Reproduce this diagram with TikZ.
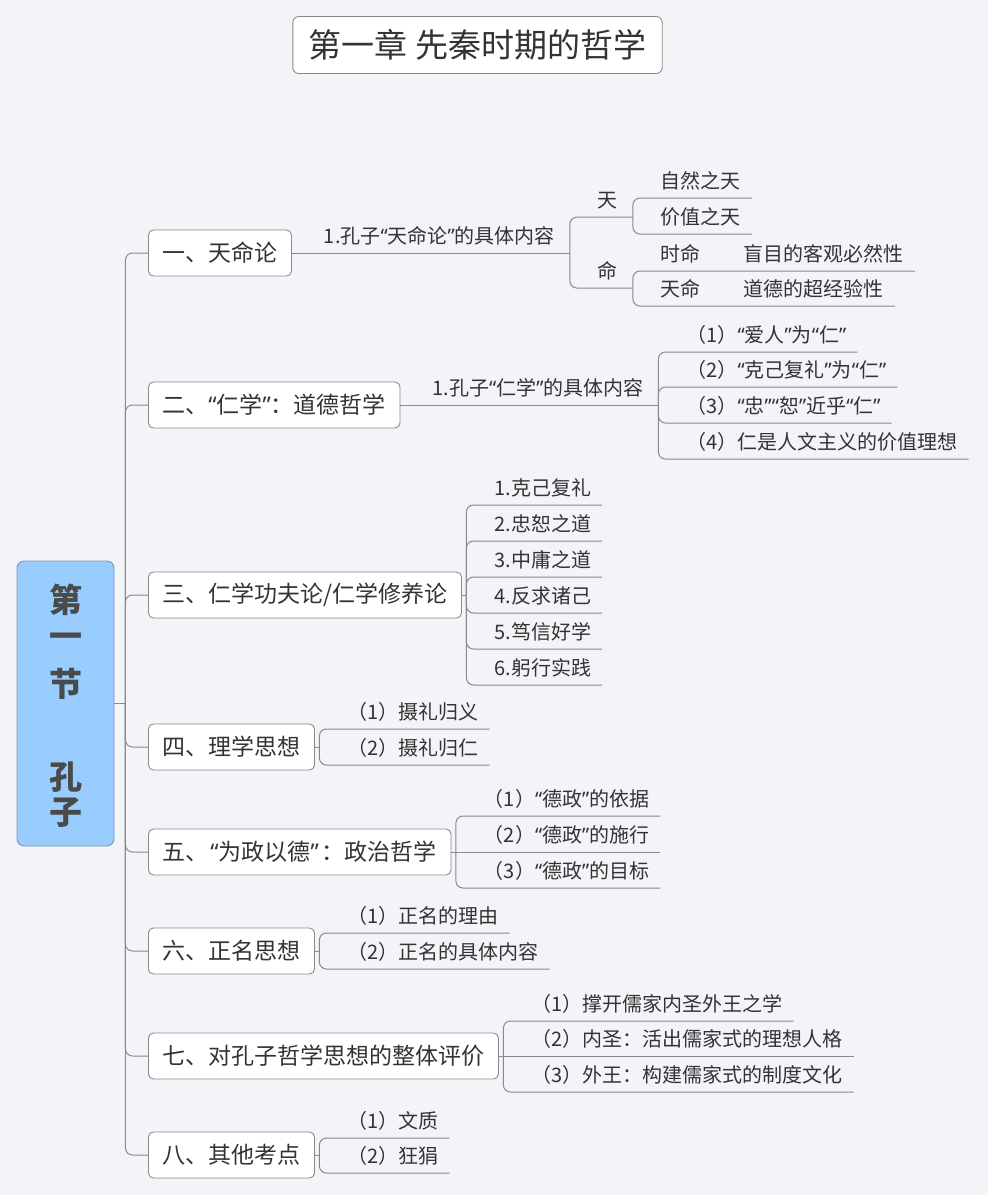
\documentclass[tikz,border=0pt]{standalone}
\usepackage{fontspec}
\setmainfont{Noto Sans CJK SC}
\newfontfamily\latinq{Noto Sans}
\newcommand{\zqo}{{\latinq “}}
\newcommand{\zqc}{{\latinq ”}}
\usetikzlibrary{calc}
\definecolor{bg}{HTML}{F3F4F8}
\definecolor{txt}{HTML}{333333}
\definecolor{ln}{HTML}{8A8A8A}
\definecolor{rootfill}{HTML}{99CCFF}
\definecolor{rootline}{HTML}{7F98B5}
\definecolor{roottxt}{HTML}{4A4A4A}
\begin{document}
\begin{tikzpicture}[x=1pt,y=-1pt,
  conn/.style={draw=ln, line width=1pt, rounded corners=7pt},
  box/.style={draw=ln, fill=white, rounded corners=5pt, line width=0.9pt,
    minimum height=46pt, inner xsep=14pt, inner ysep=0pt, anchor=west,
    font=\fontsize{23}{27}\selectfont, text=txt},
  lbl/.style={inner sep=0pt, outer sep=0pt, anchor=south west,
    text depth=9.5pt, text height=17pt, font=\fontsize{20}{24}\selectfont,
    text=txt, execute at begin node=\hspace*{#1}},
  lbl/.default=28pt,
  mid/.style={lbl=#1, execute at end node=\hspace*{15pt}},
  mid/.default=28pt,
  leaf/.style={lbl, execute at end node=\hspace*{11pt}},
  rootch/.style={font=\fontsize{33}{36}\selectfont\bfseries, text=roottxt, inner sep=0pt},
]
\useasboundingbox[fill=bg] (0,0) rectangle (988,1195);

% title
\node[draw=ln, fill=white, rounded corners=6pt, line width=0.9pt,
  minimum height=57pt, inner xsep=16pt, font=\fontsize{33}{37}\selectfont, text=txt]
  (title) at (477.5,45) {第一章 先秦时期的哲学};

% root
\node[draw=rootline, fill=rootfill, rounded corners=7pt, line width=0.9pt,
  minimum width=97pt, minimum height=285pt] (root) at (65.5,703.5) {};
\node[rootch] (r1) at (65.5,600) {第};
\node[rootch] (r2) at (65.5,641) {一};
\node[rootch] (r3) at (65.5,684) {节};
\node[rootch] (r4) at (65.5,777) {孔};
\node[rootch] (r5) at (65.5,813) {子};

% level 1 boxes
\node[box] (b1) at (148,253) {一、天命论};
\node[box] (b2) at (148,405) {二、\zqo 仁学\zqc ：道德哲学};
\node[box] (b3) at (148,595) {三、仁学功夫论/仁学修养论};
\node[box] (b4) at (148,747) {四、理学思想};
\node[box] (b5) at (148,852) {五、\kern2pt\zqo 为政以德\zqc\kern3pt：政治哲学};
\node[box] (b6) at (148,951) {六、正名思想};
\node[box] (b7) at (148,1056) {七、对孔子哲学思想的整体评价};
\node[box] (b8) at (148,1155) {八、其他考点};

% trunk
\coordinate (trunk) at ([xshift=11pt]root.east);
\draw[conn] (root.east) -- (trunk);
\foreach \b in {b1,b2,b3,b4,b5,b6,b7,b8}
  \draw[conn] (trunk) |- (\b.west);

% branch 1
\node[mid=32pt] (m1) at (b1.east) {1.孔子\zqo 天命论\zqc 的具体内容};
\draw[conn] (b1.east) -- (m1.south east);
\node[mid] (tian) at (m1.south east |- 0,217) {天};
\node[mid] (ming) at (m1.south east |- 0,288) {命};
\draw[conn] (m1.south east) |- (tian.south east);
\draw[conn] (m1.south east) |- (ming.south east);
\node[leaf] (t1) at (tian.south east |- 0,198) {自然之天};
\node[leaf] (t2) at (tian.south east |- 0,234) {价值之天};
\draw[conn] (tian.south east) |- (t1.south east);
\draw[conn] (tian.south east) |- (t2.south east);
\node[leaf] (g1) at (ming.south east |- 0,271) {时命\hspace{43pt}盲目的客观必然性};
\node[leaf] (g2) at (ming.south east |- 0,306) {天命\hspace{43pt}道德的超经验性};
\draw[conn] (ming.south east) |- (g1.south east);
\draw[conn] (ming.south east) |- (g2.south east);

% branch 2
\node[mid=32pt] (m2) at (b2.east) {1.孔子\zqo 仁学\zqc 的具体内容};
\draw[conn] (b2.east) -- (m2.south east);
\node[leaf] (r21) at (m2.south east |- 0,352) {（1）\zqo 爱人\zqc 为\zqo 仁\zqc};
\node[leaf] (r22) at (m2.south east |- 0,387) {（2）\zqo 克己复礼\zqc 为\zqo 仁\zqc};
\node[leaf] (r23) at (m2.south east |- 0,423) {（3）\zqo 忠\zqc\zqo 恕\zqc 近乎\zqo 仁\zqc};
\node[leaf] (r24) at (m2.south east |- 0,459) {（4）仁是人文主义的价值理想};
\foreach \n in {r21,r22,r23,r24}
  \draw[conn] (m2.south east) |- (\n.south east);

% branch 3
\coordinate (j3) at ([xshift=4.5pt]b3.east);
\draw[conn] (b3.east) -- (j3);
\node[leaf] (s1) at (j3 |- 0,505) {1.克己复礼};
\node[leaf] (s2) at (j3 |- 0,541) {2.忠恕之道};
\node[leaf] (s3) at (j3 |- 0,577) {3.中庸之道};
\node[leaf] (s4) at (j3 |- 0,613) {4.反求诸己};
\node[leaf] (s5) at (j3 |- 0,649) {5.笃信好学};
\node[leaf] (s6) at (j3 |- 0,685) {6.躬行实践};
\foreach \n in {s1,s2,s3,s4,s5,s6}
  \draw[conn] (j3) |- (\n.south east);

% branch 4
\coordinate (j4) at ([xshift=4.5pt]b4.east);
\draw[conn] (b4.east) -- (j4);
\node[leaf] (f1) at (j4 |- 0,729) {（1）摄礼归义};
\node[leaf] (f2) at (j4 |- 0,765) {（2）摄礼归仁};
\draw[conn] (j4) |- (f1.south east);
\draw[conn] (j4) |- (f2.south east);

% branch 5
\coordinate (j5) at ([xshift=4.5pt]b5.east);
\node[leaf] (w1) at (j5 |- 0,816) {（1）\zqo 德政\zqc 的依据};
\node[leaf] (w2) at (j5 |- 0,852) {（2）\zqo 德政\zqc 的施行};
\node[leaf] (w3) at (j5 |- 0,888) {（3）\zqo 德政\zqc 的目标};
\draw[conn] (b5.east) -- (w2.south east);
\draw[conn] (j5) |- (w1.south east);
\draw[conn] (j5) |- (w3.south east);

% branch 6
\coordinate (j6) at ([xshift=4.5pt]b6.east);
\draw[conn] (b6.east) -- (j6);
\node[leaf] (z1) at (j6 |- 0,933) {（1）正名的理由};
\node[leaf] (z2) at (j6 |- 0,969) {（2）正名的具体内容};
\draw[conn] (j6) |- (z1.south east);
\draw[conn] (j6) |- (z2.south east);

% branch 7
\coordinate (j7) at ([xshift=4.5pt]b7.east);
\node[leaf] (q1) at (j7 |- 0,1021) {（1）撑开儒家内圣外王之学};
\node[leaf] (q2) at (j7 |- 0,1056) {（2）内圣：活出儒家式的理想人格};
\node[leaf] (q3) at (j7 |- 0,1092) {（3）外王：构建儒家式的制度文化};
\draw[conn] (b7.east) -- (q2.south east);
\draw[conn] (j7) |- (q1.south east);
\draw[conn] (j7) |- (q3.south east);

% branch 8
\coordinate (j8) at ([xshift=4.5pt]b8.east);
\draw[conn] (b8.east) -- (j8);
\node[leaf] (e1) at (j8 |- 0,1138) {（1）文质};
\node[leaf] (e2) at (j8 |- 0,1173) {（2）狂狷};
\draw[conn] (j8) |- (e1.south east);
\draw[conn] (j8) |- (e2.south east);
\end{tikzpicture}
\end{document}
